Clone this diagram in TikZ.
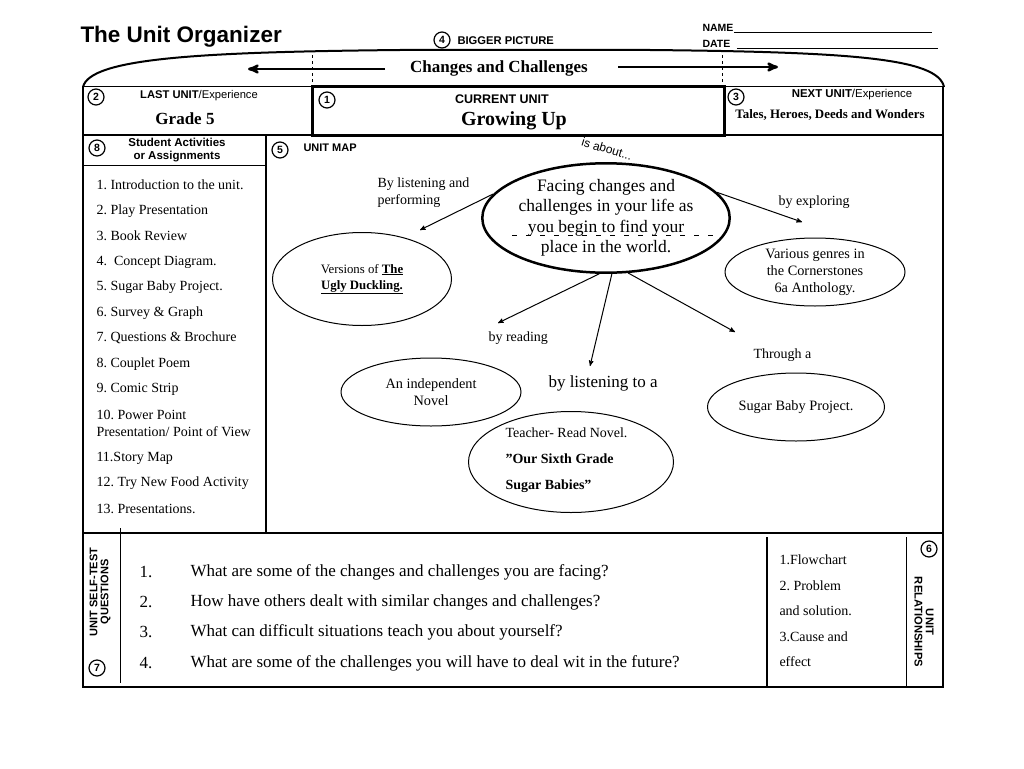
\documentclass[tikz,border=0pt]{standalone}
\usepackage{fontspec}
\setmainfont{Liberation Serif}
\setsansfont{Liberation Sans}
\usetikzlibrary{arrows,shapes.geometric}

\newcommand{\sz}[1]{\fontsize{#1}{#1}\selectfont}
\frenchspacing

\tikzset{
  num/.style={circle,draw,line width=1.2pt,inner sep=0pt,minimum size=16pt,font=\sffamily\bfseries\sz{10.5}},
  hd/.style={font=\sffamily\bfseries\sz{11},inner sep=0pt},
  txt/.style={font=\sz{14},anchor=west,inner sep=0pt},
  bubble/.style={ellipse,draw,line width=1pt,inner sep=0pt,align=center},
}

\begin{document}
\begin{tikzpicture}[x=1pt,y=-1pt,>=stealth',line width=1pt]
\useasboundingbox (0,0) rectangle (1024,768);

% heading
\node[font=\sffamily\bfseries\sz{22.5},anchor=west,inner sep=0pt] (title) at (80,37) {The Unit Organizer};
\node[num] (n4) at (442,40) {4};
\node[hd,anchor=west,font=\sffamily\bfseries\sz{11.2}] (big) at (457,41) {BIGGER PICTURE};
\node[hd,anchor=west,font=\sffamily\bfseries\sz{10.5}] (name) at (702,28) {NAME};
\node[hd,anchor=west,font=\sffamily\bfseries\sz{10.5}] (date) at (702,44) {DATE};
\coordinate (nameend) at (932,33);
\coordinate (dateend) at (938,47);
\draw[line width=0.8pt] (name.south east) -- (name.south east -| nameend);
\draw[line width=0.8pt] ([xshift=6pt]date.south east) -- (date.south east -| dateend);

% big arc
\draw[line width=2pt] (83,87) .. controls (90,58) and (200,52) .. (400,50) -- (650,50)
   .. controls (850,52) and (938,58) .. (944,87);
\draw[dashed,line width=0.6pt] (312,55) -- (312,86);
\draw[dashed,line width=0.6pt] (722,55) -- (722,86);
\node[font=\bfseries\sz{17},inner sep=0pt] (chg) at (499,68) {Changes and Challenges};
\coordinate (la) at (248,69);
\coordinate (ra) at (778,67);
\draw[->,line width=2.5pt] (385,69) -- (la);
\draw[->,line width=2.5pt] (618,67) -- (ra);

% frame
\draw (83,86) -- (943,86);
\draw[line width=1.5pt] (83,86) -- (83,687) -- (943,687) -- (943,86);
\draw[line width=1.5pt] (83,135) -- (943,135);
\draw[line width=3pt] (312,86) rectangle (724,135);
\draw[line width=1.5pt] (266,135) -- (266,533);
\draw (83,165) -- (266,165);
\draw[line width=2pt] (83,533) -- (943,533);
\draw (120,528) -- (120,683);
\draw[line width=1.5pt] (767,537) -- (767,687);
\draw (906,537) -- (906,687);

% top row
\node[num] (n2) at (96,97) {2};
\node[font=\sffamily\sz{11.2},inner sep=0pt] (last) at (199,96) {\textbf{LAST UNIT}/Experience};
\node[font=\bfseries\sz{17},inner sep=0pt] (grade) at (185,119) {Grade 5};
\node[num] (n1) at (327,100) {1};
\node[hd,font=\sffamily\bfseries\sz{12.5}] (cur) at (502,99) {CURRENT UNIT};
\node[font=\bfseries\sz{20},inner sep=0pt] (grow) at (514,121) {Growing Up};
\node[num] (n3) at (736,97) {3};
\node[font=\sffamily\sz{11.4},inner sep=0pt] (next) at (852,95) {\textbf{NEXT UNIT}/Experience};
\node[font=\bfseries\sz{12.9},inner sep=0pt] (tales) at (830,115) {Tales, Heroes, Deeds and Wonders};

% student activities
\node[num] (n8) at (97,148) {8};
\node[hd,align=center,font=\sffamily\bfseries\sz{11.5}] (act) at (177,150) {Student Activities\\[1pt]or Assignments};
\foreach \y/\t [count=\i] in {185/1. Introduction to the unit.,211/2. Play Presentation,236/3. Book Review,
   262/4.~ Concept Diagram.,287/5. Sugar Baby Project.,313/6. Survey \& Graph,338/7. Questions \& Brochure,
   364/8. Couplet Poem,389/9. Comic Strip,415/10. Power Point,458/11.Story Map,
   483/12. Try New Food Activity,509/13. Presentations.}
  \node[txt] (item\i) at (96,\y) {\t};
\node[txt] (item10b) at (96,432) {Presentation/ Point of View};

% unit map
\node[num] (n5) at (280,150) {5};
\node[hd,anchor=west] (map) at (303,148) {UNIT MAP};
\node[font=\sffamily\sz{12},rotate=-17,inner sep=0pt] (about) at (607,149) {is about...};

\draw[line width=0.8pt,dash pattern=on 5pt off 9pt] (512,235) -- (714,235);
\node[bubble,line width=2.5pt,minimum width=241pt,minimum height=109pt,font=\fontsize{17.5}{20.5}\selectfont] (core) at (606,218)
  {Facing changes and\\challenges in your life as\\you begin to find your\\place in the world.};

\node[txt,align=left,font=\fontsize{14}{17}\selectfont] (l1) at (377,193) {By listening and\\performing};
\node[bubble,minimum width=179pt,minimum height=93pt,font=\fontsize{12.8}{16}\selectfont] (duck) at (362,279)
  {Versions of \textbf{\underline{The}}\\\textbf{\underline{Ugly Duckling.}}};
\node[txt] (l2) at (488,338) {by reading};
\node[bubble,minimum width=180pt,minimum height=68pt,font=\fontsize{14.3}{17}\selectfont] (novel) at (431,392)
  {An independent\\Novel};
\node[txt,font=\sz{17}] (l3) at (548,383) {by listening to a};
\node[bubble,minimum width=205pt,minimum height=101pt] (teach) at (571,462) {};
\node[anchor=north west,inner sep=0pt,align=left,font=\bfseries\fontsize{14}{26}\selectfont] (teachtxt) at (505,427)
  {\mdseries Teacher- Read Novel.\\"Our Sixth Grade\\Sugar Babies''};
\node[txt] (l4) at (778,202) {by exploring};
\node[bubble,minimum width=180pt,minimum height=68pt,font=\fontsize{14.3}{17}\selectfont] (genre) at (815,272)
  {Various genres in\\the Cornerstones\\6a Anthology.};
\node[txt] (l5) at (753,355) {Through a};
\node[bubble,minimum width=177pt,minimum height=68pt,font=\sz{14.3}] (sugar) at (796,407)
  {Sugar Baby Project.};

\coordinate (e1) at (420,230);
\coordinate (e2) at (498,323);
\coordinate (e3) at (590,366);
\coordinate (e4) at (735,332);
\coordinate (e5) at (802,222);
\draw[->] (core.168) -- (e1);
\draw[->] (core.-97) -- (e2);
\draw[->] (core.-84) -- (e3);
\draw[->] (core.-68) -- (e4);
\draw[->] (core.13) -- (e5);

% self-test questions
\node[hd,rotate=90,align=center,font=\sffamily\bfseries\sz{11}] (selft) at (100,592) {UNIT SELF-TEST\\QUESTIONS};
\node[num] (n7) at (97,668) {7};
\foreach \y/\t [count=\i] in {572/What are some of the changes and challenges you are facing?,
   602/How have others dealt with similar changes and challenges?,
   632/What can difficult situations teach you about yourself?,
   663/What are some of the challenges you will have to deal wit in the future?}
{
  \node[txt,font=\sz{17}] (qn\i) at (139,\y) {\i.};
  \node[txt,font=\sz{17}] (q\i) at (190,\y) {\t};
}

% unit relationships
\foreach \y/\t [count=\i] in {560/1.Flowchart,586/2. Problem,611/and solution.,637/3.Cause and,662/effect}
  \node[txt,font=\sz{14}] (rel\i) at (779,\y) {\t};
\node[num] (n6) at (929,549) {6};
\node[hd,rotate=-90,align=center,font=\sffamily\bfseries\sz{11.2}] (relt) at (924,622) {UNIT\\RELATIONSHIPS};

\end{tikzpicture}
\end{document}
